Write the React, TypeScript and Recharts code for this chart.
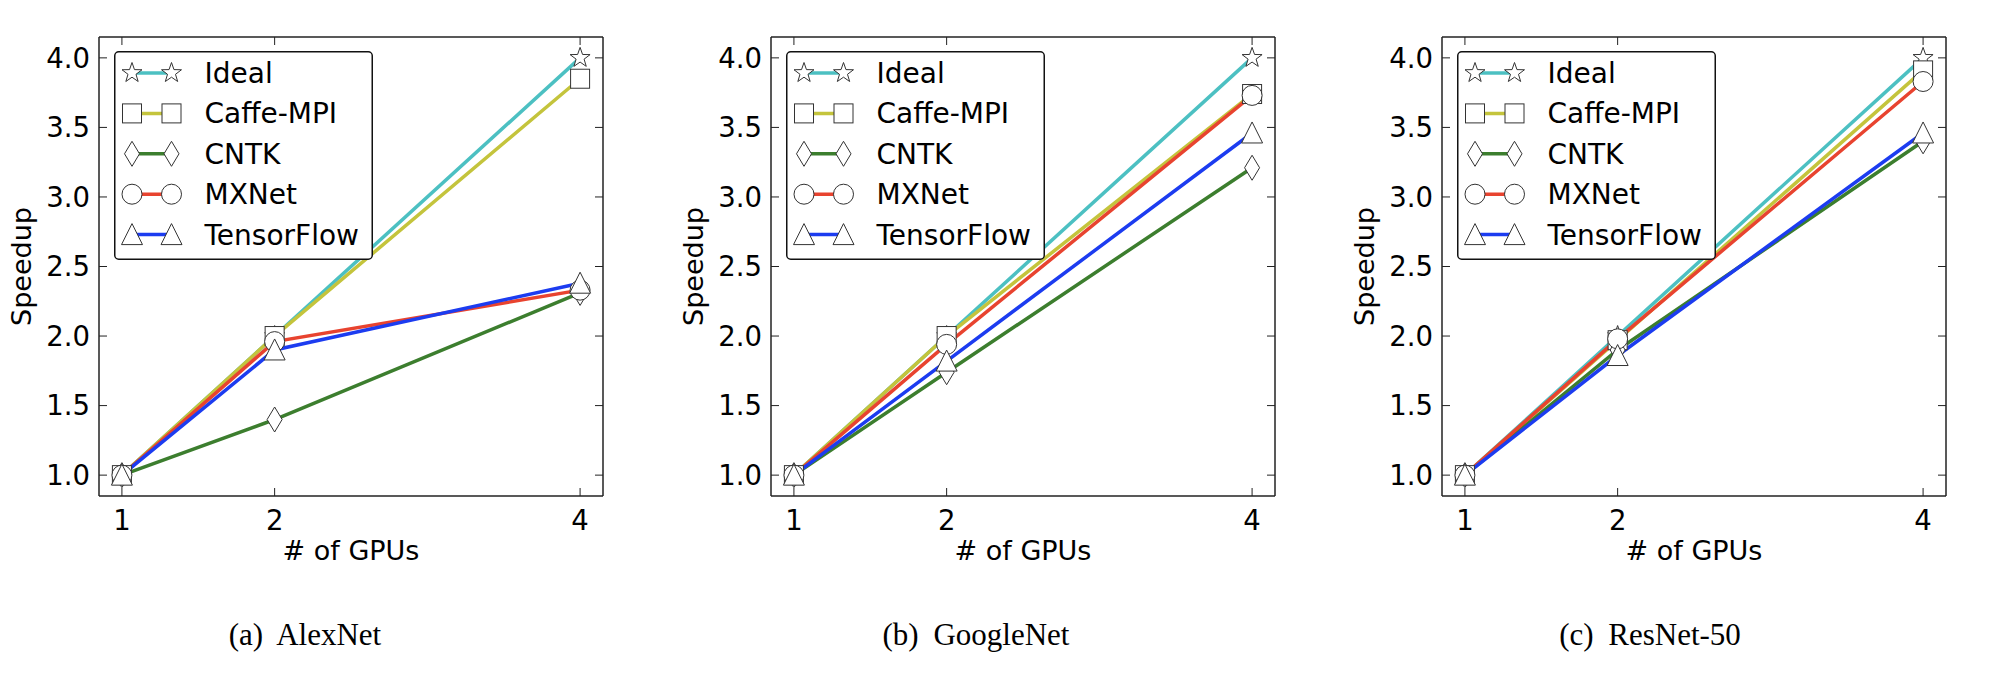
import React from "react";
import { LineChart, Line, XAxis, YAxis, Legend, Label } from "recharts";

const gpuCounts = [1, 2, 4];
const speedupTicks = [1.0, 1.5, 2.0, 2.5, 3.0, 3.5, 4.0];
const axisDomain = [0.85, 4.15];

const seriesNames = ["Ideal", "Caffe-MPI", "CNTK", "MXNet", "TensorFlow"];
const seriesColors = ["#4cc0c2", "#c4c43c", "#3c7e2e", "#e8432f", "#1c3cf0"];
const seriesMarkers = ["star", "square", "diamond", "circle", "triangle"];

const ideal = [1.0, 2.0, 4.0];

const alexNetCaffeMpi = [1.0, 2.0, 3.85];
const alexNetCntk = [1.0, 1.4, 2.31];
const alexNetMxnet = [1.0, 1.96, 2.33];
const alexNetTensorFlow = [1.0, 1.9, 2.38];

const googleNetCaffeMpi = [1.0, 2.0, 3.74];
const googleNetCntk = [1.0, 1.74, 3.21];
const googleNetMxnet = [1.0, 1.94, 3.73];
const googleNetTensorFlow = [1.0, 1.82, 3.46];

const resNetCaffeMpi = [1.0, 1.97, 3.91];
const resNetCntk = [1.0, 1.9, 3.4];
const resNetMxnet = [1.0, 1.98, 3.83];
const resNetTensorFlow = [1.0, 1.86, 3.46];

const captions = ["(a) AlexNet", "(b) GoogleNet", "(c) ResNet-50"];

const panels = [
  [ideal, alexNetCaffeMpi, alexNetCntk, alexNetMxnet, alexNetTensorFlow],
  [ideal, googleNetCaffeMpi, googleNetCntk, googleNetMxnet, googleNetTensorFlow],
  [ideal, resNetCaffeMpi, resNetCntk, resNetMxnet, resNetTensorFlow],
];

const panelLefts = [0, 672, 1343];
const captionCenters = [305, 976, 1650];

const FONT = "DejaVu Sans";
const TICK_SIZE = 27.5;
const TITLE_SIZE = 27;
const LEGEND_SIZE = 28;

const toRows = (series: number[][]) =>
  gpuCounts.map((g, i) => {
    const row: Record<string, number> = { gpus: g };
    seriesNames.forEach((name, k) => {
      row[name] = series[k][i];
    });
    return row;
  });

// matplotlib-like hollow markers
const MarkerShape = ({ cx, cy, kind }: { cx: number; cy: number; kind: string }) => {
  const common = { fill: "#fff", stroke: "#333", strokeWidth: 1 };
  if (kind === "star") {
    const pts: string[] = [];
    for (let i = 0; i < 10; i++) {
      const r = i % 2 === 0 ? 10.5 : 4.2;
      const a = -Math.PI / 2 + (i * Math.PI) / 5;
      pts.push(`${cx + r * Math.cos(a)},${cy + r * Math.sin(a)}`);
    }
    return <polygon points={pts.join(" ")} {...common} />;
  }
  if (kind === "square") {
    return <rect x={cx - 9.5} y={cy - 9.5} width={19} height={19} {...common} />;
  }
  if (kind === "diamond") {
    return (
      <polygon
        points={`${cx},${cy - 12.5} ${cx + 7.5},${cy} ${cx},${cy + 12.5} ${cx - 7.5},${cy}`}
        {...common}
      />
    );
  }
  if (kind === "circle") {
    return <circle cx={cx} cy={cy} r={10} {...common} />;
  }
  return (
    <polygon
      points={`${cx},${cy - 11} ${cx + 10.5},${cy + 10} ${cx - 10.5},${cy + 10}`}
      {...common}
    />
  );
};

const SpeedupLegend = (props: any) => {
  const payload = [...(props.payload || [])].sort(
    (a: any, b: any) => seriesNames.indexOf(a.value) - seriesNames.indexOf(b.value)
  );
  return (
    <svg width={259} height={209} style={{ display: "block" }}>
      <rect x={0.75} y={0.75} width={257.5} height={207.5} rx={4} fill="#fff" stroke="#111" strokeWidth={1.5} />
      {payload.map((entry: any, i: number) => {
        const k = seriesNames.indexOf(entry.value);
        const y = 22 + i * 40.4;
        return (
          <g key={entry.value}>
            <line x1={18} x2={57.5} y1={y} y2={y} stroke={seriesColors[k]} strokeWidth={3.5} />
            <MarkerShape cx={18} cy={y} kind={seriesMarkers[k]} />
            <MarkerShape cx={57.5} cy={y} kind={seriesMarkers[k]} />
            <text x={90.5} y={y} dy="0.36em" fontSize={LEGEND_SIZE} fontFamily={FONT} fill="#000">
              {entry.value}
            </text>
          </g>
        );
      })}
    </svg>
  );
};

const SpeedupPanel = ({ series, left }: { series: number[][]; left: number }) => {
  const rows = toRows(series);
  return (
    <div style={{ position: "absolute", left, top: 0 }}>
      <LineChart
        width={640}
        height={682}
        data={rows}
        margin={{ top: 36, right: 36, bottom: 126, left: 0 }}
        style={{ fontFamily: FONT }}
      >
        <XAxis
          xAxisId="bottom"
          dataKey="gpus"
          type="number"
          domain={axisDomain}
          ticks={gpuCounts}
          allowDataOverflow
          height={60}
          tickSize={-8}
          tickMargin={22}
          tick={{ fontSize: TICK_SIZE, fill: "#000" }}
          stroke="#222"
          axisLine={{ strokeWidth: 1.5 }}
        >
          <Label
            content={({ viewBox }: any) => (
              <text
                x={viewBox.x + viewBox.width / 2}
                y={viewBox.y + 64}
                textAnchor="middle"
                fontSize={TITLE_SIZE}
                fill="#000"
              >
                # of GPUs
              </text>
            )}
          />
        </XAxis>
        <XAxis
          xAxisId="top"
          orientation="top"
          dataKey="gpus"
          type="number"
          domain={axisDomain}
          ticks={gpuCounts}
          allowDataOverflow
          height={1}
          tickSize={-8}
          tick={() => <g />}
          stroke="#222"
          axisLine={{ strokeWidth: 1.5 }}
        />
        <YAxis
          yAxisId="left"
          type="number"
          domain={axisDomain}
          ticks={speedupTicks}
          allowDataOverflow
          width={99}
          tickSize={-8}
          tickMargin={17}
          tickFormatter={(v: number) => v.toFixed(1)}
          tick={{ fontSize: TICK_SIZE, fill: "#000" }}
          stroke="#222"
          axisLine={{ strokeWidth: 1.5 }}
        >
          <Label
            content={({ viewBox }: any) => {
              const cy = viewBox.y + viewBox.height / 2;
              return (
                <text
                  x={31}
                  y={cy}
                  transform={`rotate(-90 31 ${cy})`}
                  textAnchor="middle"
                  fontSize={TITLE_SIZE}
                  fill="#000"
                >
                  Speedup
                </text>
              );
            }}
          />
        </YAxis>
        <YAxis
          yAxisId="right"
          orientation="right"
          type="number"
          domain={axisDomain}
          ticks={speedupTicks}
          allowDataOverflow
          width={1}
          tickSize={-8}
          tick={() => <g />}
          stroke="#222"
          axisLine={{ strokeWidth: 1.5 }}
        />
        {seriesNames.map((name, k) => (
          <Line
            key={name}
            xAxisId="bottom"
            yAxisId="left"
            dataKey={name}
            name={name}
            type="linear"
            stroke={seriesColors[k]}
            strokeWidth={3.5}
            isAnimationActive={false}
            activeDot={false}
            dot={(p: any) => (
              <MarkerShape key={`${name}-${p.index}`} cx={p.cx} cy={p.cy} kind={seriesMarkers[k]} />
            )}
          />
        ))}
        <Legend
          layout="horizontal"
          verticalAlign="middle"
          align="center"
          content={SpeedupLegend}
          wrapperStyle={{ left: 113.5, top: 51, width: 259, height: 209 }}
        />
      </LineChart>
    </div>
  );
};

export default function App() {
  return (
    <div style={{ position: "absolute", left: 0, top: 0, width: 2006, height: 682, background: "#fff" }}>
      {panels.map((series, i) => (
        <SpeedupPanel key={captions[i]} series={series} left={panelLefts[i]} />
      ))}
      <svg
        width={2006}
        height={70}
        style={{ position: "absolute", left: 0, top: 600, pointerEvents: "none" }}
      >
        {captions.map((c, i) => (
          <text
            key={c}
            x={captionCenters[i]}
            y={45}
            textAnchor="middle"
            fontFamily="Liberation Serif"
            fontSize={31}
            wordSpacing={7}
            fill="#000"
          >
            {c}
          </text>
        ))}
      </svg>
    </div>
  );
}
